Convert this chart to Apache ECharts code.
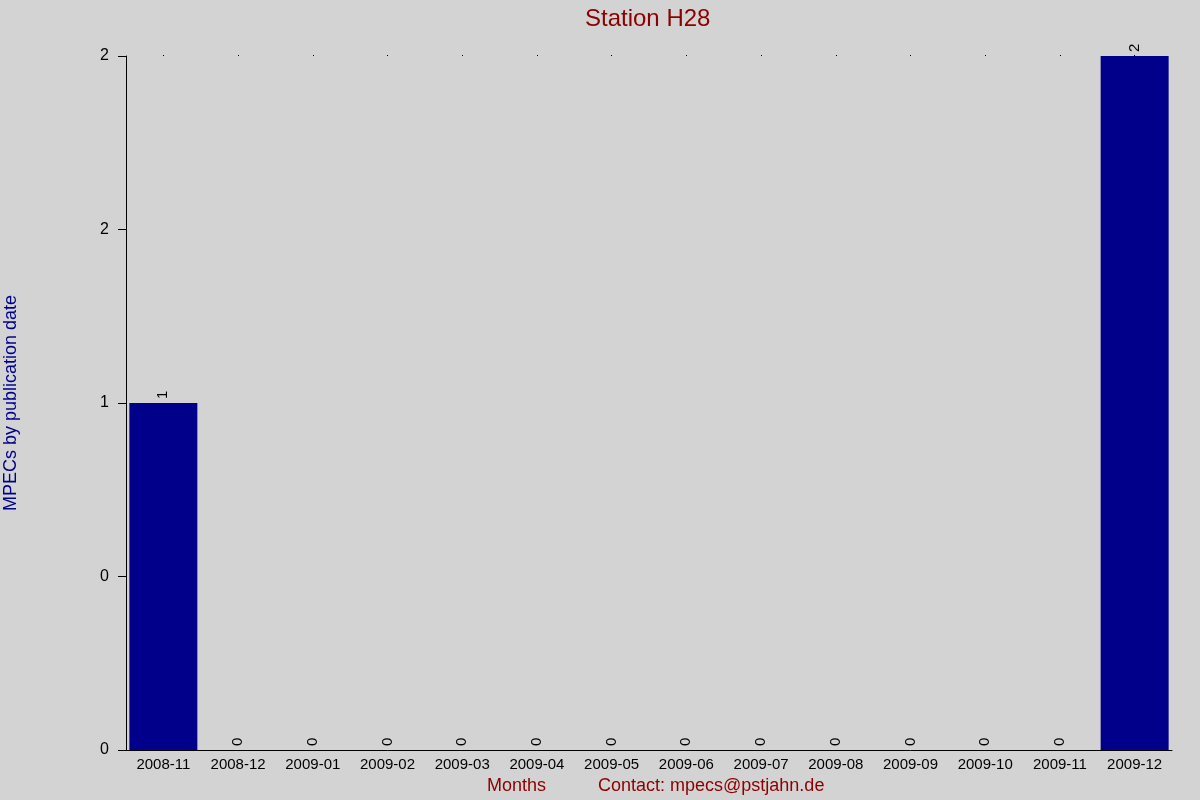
<!DOCTYPE html>
<html>
<head>
<meta charset="utf-8">
<script src="https://cdn.jsdelivr.net/npm/echarts@6/dist/echarts.min.js"></script>
<style>
  html, body { margin: 0; padding: 0; background: #d3d3d3; }
  #chart { width: 1200px; height: 800px; }
</style>
</head>
<body>
<div id="chart"></div>
<script>
var months = ['2008-11', '2008-12', '2009-01', '2009-02', '2009-03', '2009-04', '2009-05',
              '2009-06', '2009-07', '2009-08', '2009-09', '2009-10', '2009-11', '2009-12'];
var mpecCounts = [1, 0, 0, 0, 0, 0, 0, 0, 0, 0, 0, 0, 0, 2];
var yTicks = [0, 0.5, 1, 1.5, 2];
var yTickLabels = ['0', '0', '1', '2', '2'];

var chart = echarts.init(document.getElementById('chart'));
var font = 'Liberation Sans, Arial, sans-serif';

var option = {
  backgroundColor: '#d3d3d3',
  animation: false,
  title: {
    text: 'Station H28',
    left: 580,
    top: 2,
    textStyle: { color: '#8b0000', fontSize: 24, fontWeight: 'normal', fontFamily: font }
  },
  grid: { left: 126, right: 28, top: 56, bottom: 50, outerBoundsMode: 'none', containLabel: false },
  xAxis: [
    {
      type: 'category',
      data: months,
      axisLine: { show: true, lineStyle: { color: '#000', width: 1 } },
      axisTick: { show: false },
      axisLabel: { color: '#000', fontSize: 15, fontFamily: font, margin: 7, interval: 0 }
    },
    {
      // small dots along the top edge
      type: 'category',
      data: months,
      position: 'top',
      axisLine: { show: false },
      axisTick: { show: true, alignWithLabel: true, length: 1, lineStyle: { color: '#000' } },
      axisLabel: { show: false }
    }
  ],
  yAxis: {
    type: 'value',
    min: yTicks[0],
    max: yTicks[yTicks.length - 1],
    interval: 0.5,
    name: 'MPECs by publication date',
    nameLocation: 'middle',
    nameGap: 106,
    nameTextStyle: { color: '#00008b', fontSize: 18, fontFamily: font },
    axisLine: { show: true, lineStyle: { color: '#000', width: 1 } },
    axisTick: { show: true, length: 8, lineStyle: { color: '#000' } },
    splitLine: { show: false },
    axisLabel: {
      color: '#000', fontSize: 16, fontFamily: font, margin: 17,
      formatter: function (v) {
        var i = yTicks.indexOf(v);
        return i >= 0 ? yTickLabels[i] : '';
      }
    }
  },
  series: [{
    type: 'bar',
    data: mpecCounts,
    xAxisIndex: 0,
    barCategoryGap: '9%',
    itemStyle: { color: '#00008b' },
    label: {
      show: true,
      position: 'top',
      rotate: 90,
      distance: 4,
      align: 'left',
      verticalAlign: 'middle',
      color: '#000',
      fontSize: 15,
      fontFamily: font
    }
  }],
  graphic: [
    {
      type: 'text', left: 487, top: 777,
      style: { text: 'Months', fill: '#8b0000', fontSize: 18, fontFamily: font }
    },
    {
      type: 'text', left: 598, top: 777,
      style: { text: 'Contact: mpecs@pstjahn.de', fill: '#8b0000', fontSize: 18, fontFamily: font }
    }
  ]
};

chart.setOption(option);
</script>
</body>
</html>
